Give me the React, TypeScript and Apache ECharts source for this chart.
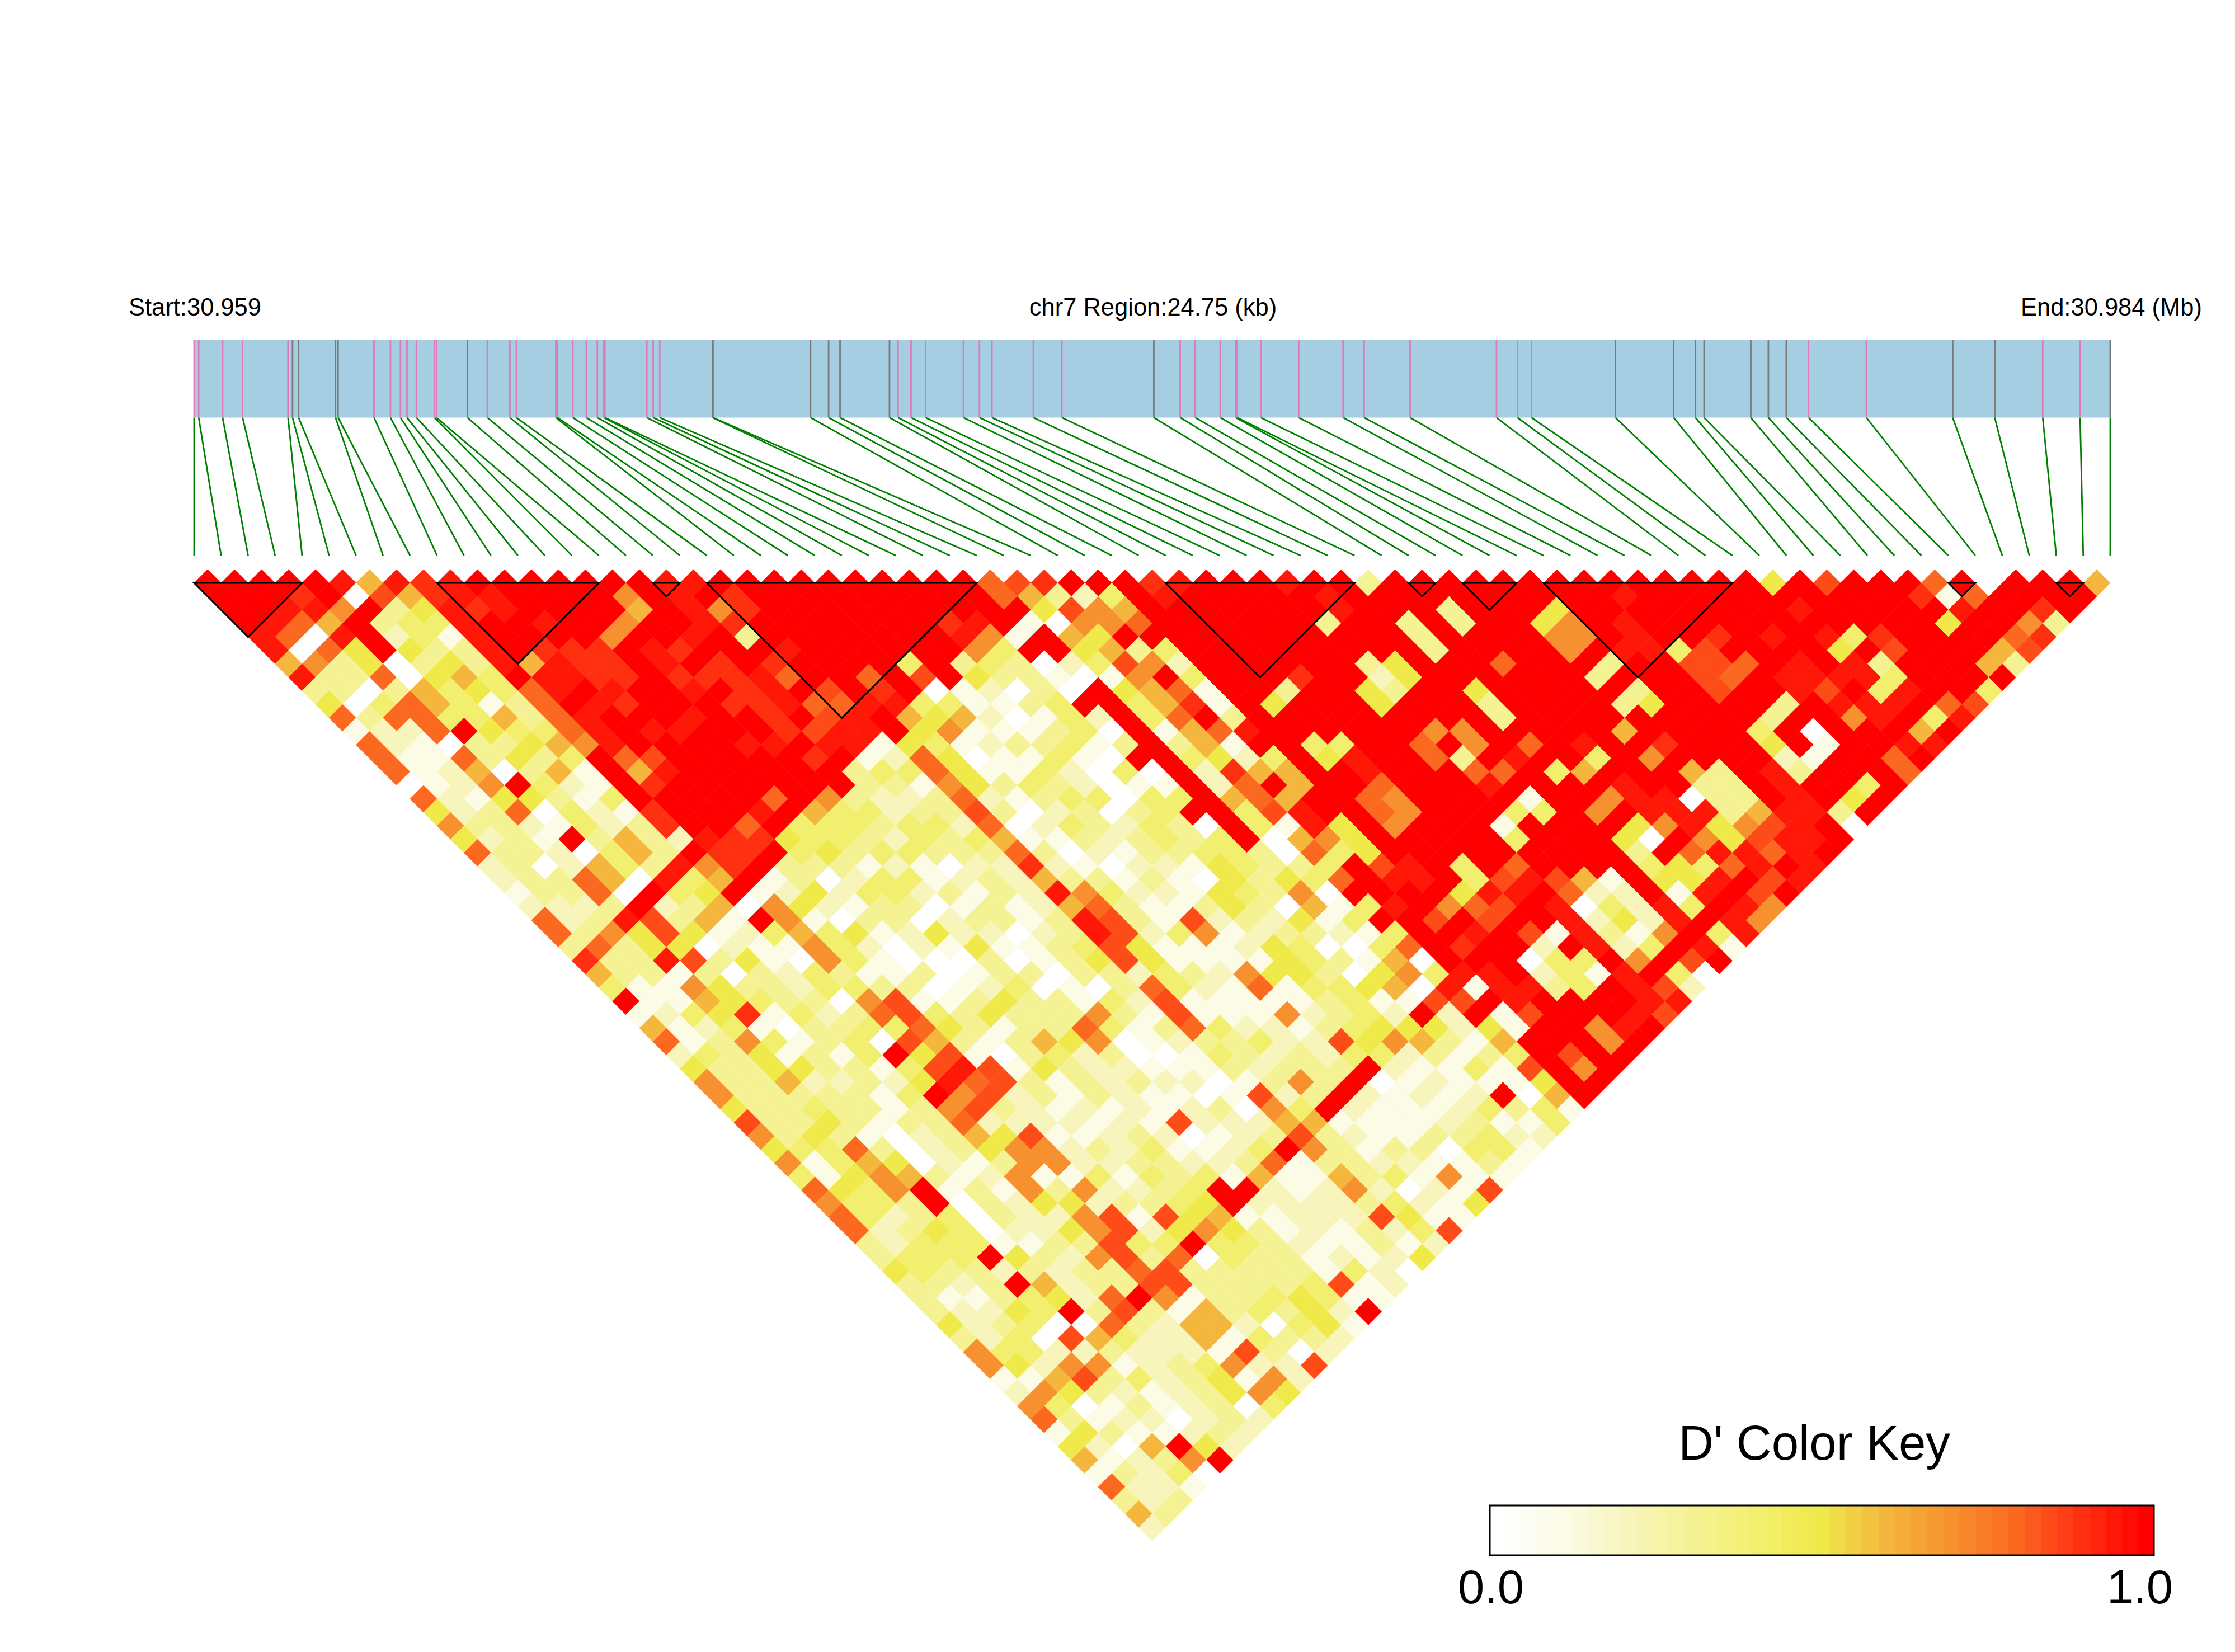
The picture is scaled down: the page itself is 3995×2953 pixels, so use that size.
import React, { useEffect, useRef } from "react";
import * as echarts from "echarts";

// SNP positions along the region, in kb from the start
const snpKb = [0,0.059,0.368,0.626,1.213,1.271,1.349,1.826,1.859,2.323,2.536,2.665,2.749,2.871,3.104,3.130,3.530,3.788,4.078,4.162,4.672,4.691,4.891,5.065,5.208,5.292,5.305,5.847,5.930,6.014,6.698,6.701,7.962,8.195,8.343,8.982,9.092,9.260,9.447,9.937,10.144,10.305,10.840,11.208,12.396,12.737,12.931,13.254,13.453,13.473,13.777,14.267,14.841,15.112,15.706,16.822,17.093,17.274,18.358,19.110,19.391,19.504,20.107,20.334,20.566,20.853,21.600,22.715,23.258,23.878,24.361,24.750];
// 1 = pink tick, 0 = grey tick
const snpPink = [1,1,1,1,1,0,0,0,0,1,1,1,1,1,1,1,0,1,1,1,1,1,1,1,1,1,1,1,1,1,0,0,0,0,0,0,1,1,1,1,1,1,1,1,0,1,1,1,1,1,1,1,1,1,1,1,1,1,0,0,0,0,0,0,0,1,1,0,0,1,1,0];
const regionKb = 24.75;
// LD blocks as [first SNP, last SNP]
const blocks = [[0,4],[9,15],[17,18],[19,29],[36,43],[45,46],[47,49],[50,57],[65,66],[69,70]];

// D' by row of the triangle (row n = SNP pairs n+1 apart), one character per cell:
// digit = tenths, o = 0.85, r = 0.95, R = 1.0
const rows = [
"RRRRRr6r9r RRRRRRRrrR RRRRRRRRR8 o9RRR9rRRR rRR3RRRRRR RRRRRRRR5R oRRR8R0RRR 6",
"RRR9R0o69r rRRRR7RrR9 RRRRRRRRR8 6324RrRRRR RrRRRRRRRR RRrRRRRRRR RRR918RRRR",
"RRrr7R35r9 rRRRR6Rr79 RRRRRRRRRR 5o76RRRRRR RrRRR3RRR5 RRRRRRRRrR RRRRrRR9R",
"Rr86R344rR RrRR7RRr9R RRRRRR9rR1 0778RRRRRR 3RR3R3RR57 RrRRRRRRRR RRR5RR73",
"r80rR241rR RRR7RRrR3R RRRRRRr71R 65RRRRRRRR RRR3RRRR77 RrRR9RrRr4 9RRRR89",
"r085R533rR 999Rr9RRRr RRRRRR74RR 5634RRRRRR RRR3RRRR7R rr4oRRRR5R oRRR6o",
"67350353r6 r99RrR9R9R RRR4R34302 4o72RRRRRR 35RRR8RRR3 RRoo8RrRr3 RRR63",
"r3380564Rr r99R999r8R R8RoR53310 17R4RRR9RR 25RRRRRR3R RRo8Rrrrr4 RRRR",
"330364548r RrRRrR9rRo R9R012030R 5681RR3RR5 3RR5RRRRR3 RRoRRroR4r RR4",
"504864138R r9RRR99r88 rr441134RR 4691R5RRR5 RRR3RRRR35 RRRR3RrrrR 8o",
"838844638r RRRrRR9Ror R65620142R 48R3RRRRRR RRR3RRRRRR RRR3RR7rR4 r",
"1228R5448r RrrRRR9orr R57111340R 168rRRRRRR 77RRRRR6RR RR4R0RRR6R",
"821033567r RRRRrrRrr1 541233413R 361RR44RR8 R7R8RrRR9R RR5R1RRrr",
"81183534R8 oRRRRR9R12 85011410RR 4524R5rRR8 3RrRR4R7RR RR21RR8R",
"81260361R6 rRRRRRR344 851142040R 2966RRrRRR 88R46RRR63 Rr3RRR8",
"0127R421R9 RRRRRRR331 753432011R 28R6RR8RRR rRRRRrRR33 RrRR4R",
"82155314RR RRR8R73223 821344044R 686RR87RRR R1RR7rr033 RrR5R",
"523804219R RRrR644233 o3023034RR 4orRR87RRR 44R7Rrrr36 rr3R",
"733214239R R8R4443442 802432430R 41r5R7RRR1 RRRR57r57o rR0",
"5231R3632r 9954432434 611323434R 0675RRRRR4 RRR50R75or rR",
"83320463R9 9R45344333 8302133443 0845RRRRRR RRR3R8rr8r R",
"2302643r79 R333121022 9210221543 34RorR4R8R RRR4548rRr",
"233860r46R 1302441232 6331310535 48RrrR4oro 61R55rRor",
"13380R45R1 2524423132 r742215437 0RRRR5rrR8 22R1rRoR",
"2223R23607 5213301312 6831135306 14rR78oRr0 42r4Rr7",
"823ro361R7 1033023313 ro31o23251 4RRoRoRRr2 52rRr7",
"8375o51246 4512522023 ro24712332 14RRrRo1r3 17R4r",
"3835502117 4202151134 o511125400 48R9RR2Rr2 4Rr1",
"933ro35107 4100030135 o511115431 60RRR044R7 RoR",
"6331303243 1130133033 2432755305 74rrR241rR 40",
"4117533244 3301240103 8421814456 0r1rr34Rro 2",
"R116543307 o113533142 o111113411 ooRrRRRRrr",
"1245914238 o435333731 o11172342R 2R1oRRRro",
"6124103344 8531338413 8422134555 251RR7rR",
"813741340o 6313657012 33422o5763 16RRR7R",
"24351314R5 o103423001 4323244231 34RoRR",
"533553314o ro15322111 32333R2114 1oR7R",
"733622325r 8o31323220 1373R01211 15RR",
"73333314R7 o231321101 o23R21212R 06R",
"533433137o 3212121230 74R2111243 41",
"o335313382 222121o222 6611112311 4",
"7353102365 o112320123 o321133422",
"5448302357 723241124R 731330441",
"7146502137 7223322381 33221131",
"4157631271 1414341611 6341711",
"8547R13173 72234RR212 72021o",
"7443R03255 23345R2222 34215",
"8423403227 o1o5611222 o511",
"8235402257 o257531213 24o",
"324441133o 44R4432113 12",
"3444R5327o 3804331212 5",
"5433232338 o333331420",
"3323R6233o o33334o12",
"31134528R7 13345411",
"32254R3o31 634352R",
"5234008326 620451",
"3240o64226 14332",
"7442232221 o302",
"7527712347 22o",
"116o342351 72",
"2753212357 5",
"7401312304",
"831220232",
"15311232",
"5206R52",
"61237R",
"13240",
"8221",
"323",
"63",
"2",
];

const colorStops = ["#FFFFFF","#FBFBE6","#F8F5BC","#F5F294","#F3EF6E","#F0E94A","#F4B63C","#F7902E","#FB6820","#FF3010","#FF0000"];
const keySteps = 41;
const keyLabels = ["0.0", "1.0"];

function charValue(c: string) {
  if (c === "R") return 1;
  if (c === "r") return 0.95;
  if (c === "o") return 0.85;
  return Number(c) / 10;
}

const cellData: number[][] = [];
rows.forEach((row, d) => {
  row.replace(/ /g, "").split("").forEach((c, k) => {
    cellData.push([k + (d + 1) / 2, d, charValue(c)]);
  });
});
const keyData = Array.from({ length: keySteps }, (_, i) => [i, 0, i / (keySteps - 1)]);
const snpCount = snpKb.length;

const gridOf = (i: number) => ({ xAxisIndex: i, yAxisIndex: i, coordinateSystem: "cartesian2d" as const });

export default function App() {
  const ref = useRef<HTMLDivElement>(null);
  useEffect(() => {
    if (!ref.current) return;
    const chart = echarts.init(ref.current, undefined, { renderer: "svg" });
    const font = "Liberation Sans, Arial, sans-serif";
    const hidden = { show: false };
    chart.setOption({
      animation: false,
      backgroundColor: "#fff",
      grid: [
        { left: 347, top: 1018, width: 3425, height: 1736.6 },
        { left: 347, top: 607, width: 3425, height: 139.5 },
        { left: 347, top: 746.5, width: 3425, height: 246.5 },
        { left: 2663, top: 2691, width: 1187, height: 89 },
      ],
      xAxis: [
        { ...hidden, type: "value", gridIndex: 0, min: 0, max: snpCount - 1 },
        { ...hidden, type: "value", gridIndex: 1, min: 0, max: regionKb },
        { ...hidden, type: "value", gridIndex: 2, min: 0, max: regionKb },
        { ...hidden, type: "value", gridIndex: 3, min: 0, max: keySteps },
      ],
      yAxis: [
        { ...hidden, type: "value", gridIndex: 0, min: 0, max: snpCount, inverse: true },
        { ...hidden, type: "value", gridIndex: 1, min: 0, max: 1, inverse: true },
        { ...hidden, type: "value", gridIndex: 2, min: 0, max: 1, inverse: true },
        { ...hidden, type: "value", gridIndex: 3, min: 0, max: 1, inverse: true },
      ],
      visualMap: {
        show: false,
        type: "continuous",
        min: 0,
        max: 1,
        dimension: 2,
        seriesIndex: [0, 5],
        inRange: { color: colorStops },
      },
      series: [
        {
          type: "custom",
          ...gridOf(0),
          silent: true,
          progressive: 0,
          data: cellData,
          encode: { x: 0, y: 1 },
          renderItem: (_: any, api: any) => {
            const u = api.value(0), d = api.value(1);
            const pts = [[u - 0.5, d + 1], [u, d], [u + 0.5, d + 1], [u, d + 2]].map((p) => api.coord(p));
            const c = api.visual("color");
            return { type: "polygon", shape: { points: pts }, style: { fill: c, stroke: c, lineWidth: 0.7 } };
          },
        },
        {
          type: "custom",
          ...gridOf(0),
          silent: true,
          z: 5,
          data: blocks,
          encode: { x: 0, y: 1 },
          renderItem: (_: any, api: any) => {
            const a = api.value(0), b = api.value(1);
            const pts = [[a, 1], [b, 1], [(a + b) / 2, 1 + (b - a)]].map((p) => api.coord(p));
            return {
              type: "polygon",
              shape: { points: pts },
              style: { fill: "none", stroke: "#000", lineWidth: 3 },
            };
          },
        },
        {
          type: "custom",
          ...gridOf(1),
          silent: true,
          data: [[0, regionKb]],
          encode: { x: [0, 1] },
          renderItem: (_: any, api: any) => {
            const p0 = api.coord([api.value(0), 0]);
            const p1 = api.coord([api.value(1), 1]);
            return {
              type: "rect",
              shape: { x: p0[0], y: p0[1], width: p1[0] - p0[0], height: p1[1] - p0[1] },
              style: { fill: "#A6CEE3" },
            };
          },
        },
        {
          type: "custom",
          ...gridOf(1),
          silent: true,
          z: 3,
          data: snpKb.map((kb, i) => [kb, snpPink[i]]),
          encode: { x: 0 },
          renderItem: (_: any, api: any) => {
            const kb = api.value(0);
            const a = api.coord([kb, 0]);
            const b = api.coord([kb, 1]);
            return {
              type: "line",
              shape: { x1: a[0], y1: a[1], x2: b[0], y2: b[1] },
              style: { stroke: api.value(1) ? "#E078BC" : "#7A7A7A", lineWidth: 2.8 },
            };
          },
        },
        {
          type: "custom",
          ...gridOf(2),
          silent: true,
          data: snpKb.map((kb, i) => [kb, (i * regionKb) / (snpCount - 1)]),
          encode: { x: [0, 1] },
          renderItem: (_: any, api: any) => {
            const a = api.coord([api.value(0), 0]);
            const b = api.coord([api.value(1), 1]);
            return {
              type: "line",
              shape: { x1: a[0], y1: a[1], x2: b[0], y2: b[1] },
              style: { stroke: "#008000", lineWidth: 2.8 },
            };
          },
        },
        {
          type: "custom",
          ...gridOf(3),
          silent: true,
          data: keyData,
          encode: { x: 0 },
          renderItem: (_: any, api: any) => {
            const i = api.value(0);
            const p0 = api.coord([i, 0]);
            const p1 = api.coord([i + 1, 1]);
            return {
              type: "rect",
              shape: { x: p0[0], y: p0[1], width: p1[0] - p0[0] + 0.5, height: p1[1] - p0[1] },
              style: { fill: api.visual("color") },
            };
          },
        },
        {
          type: "custom",
          ...gridOf(3),
          silent: true,
          z: 5,
          data: [[0, keySteps]],
          encode: { x: [0, 1] },
          renderItem: (_: any, api: any) => {
            const p0 = api.coord([api.value(0), 0]);
            const p1 = api.coord([api.value(1), 1]);
            return {
              type: "rect",
              shape: { x: p0[0], y: p0[1], width: p1[0] - p0[0], height: p1[1] - p0[1] },
              style: { fill: "none", stroke: "#000", lineWidth: 3 },
            };
          },
        },
      ],
      graphic: [
        { type: "text", x: 230, y: 549, style: { text: "Start:30.959", font: `43.5px ${font}`, fill: "#000", textAlign: "left", textVerticalAlign: "middle" } },
        { type: "text", x: 2061, y: 549, style: { text: "chr7 Region:24.75 (kb)", font: `43.5px ${font}`, fill: "#000", textAlign: "center", textVerticalAlign: "middle" } },
        { type: "text", x: 3936, y: 549, style: { text: "End:30.984 (Mb)", font: `43.5px ${font}`, fill: "#000", textAlign: "right", textVerticalAlign: "middle" } },
        { type: "text", x: 3243, y: 2578, style: { text: "D' Color Key", font: `87px ${font}`, fill: "#000", textAlign: "center", textVerticalAlign: "middle" } },
        { type: "text", x: 2665, y: 2836, style: { text: keyLabels[0], font: `85px ${font}`, fill: "#000", textAlign: "center", textVerticalAlign: "middle" } },
        { type: "text", x: 3825, y: 2836, style: { text: keyLabels[1], font: `85px ${font}`, fill: "#000", textAlign: "center", textVerticalAlign: "middle" } },
      ],
    });
    return () => chart.dispose();
  }, []);
  return <div ref={ref} style={{ position: "absolute", left: 0, top: 0, width: 3995, height: 2953 }} />;
}
